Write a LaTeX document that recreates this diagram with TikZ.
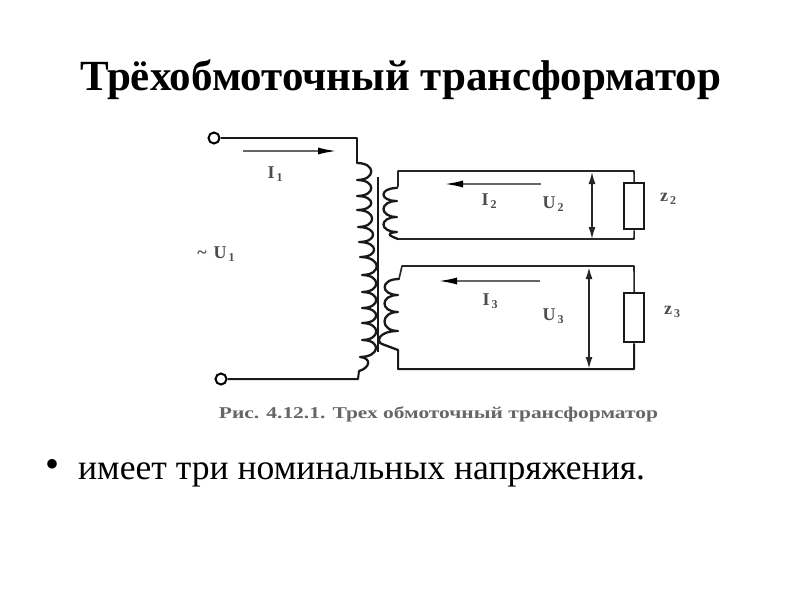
\documentclass[tikz,border=0pt]{standalone}
\usepackage{fontspec}
\setmainfont{Liberation Serif}
\usetikzlibrary{arrows.meta}
\newcommand{\lblsub}[2]{#1\kern2pt\raisebox{-3.5pt}{\fontsize{12}{12}\selectfont #2}}
\tikzset{
  wire/.style={line width=2pt,black!90,line join=round},
  thin wire/.style={line width=1.6pt,black!85,line join=round},
  coil/.style={line width=2.3pt,black!90,line cap=round,line join=round},
  core/.style={line width=2.4pt,black!90},
  terminal/.style={circle,draw=black,line width=2pt,fill=white,minimum size=11pt,inner sep=0pt},
  load/.style={draw=black!90,line width=2.4pt,fill=white,minimum width=20pt,inner sep=0pt,anchor=north west},
  current/.style={line width=2.4pt,black!60,-{Latex[length=20pt,width=7pt,black]}},
  volt/.style={line width=1.4pt,black!85,{Latex[length=12pt,width=7pt]}-{Latex[length=12pt,width=7pt]}},
  eltext/.style={font=\fontsize{18}{18}\selectfont\bfseries,text=black!70,inner sep=0pt},
  title/.style={font=\fontsize{43}{43}\selectfont\bfseries,inner sep=0pt},
  body/.style={font=\fontsize{35.6}{36}\selectfont,inner sep=0pt,anchor=base west},
  caption/.style={font=\fontsize{16.5}{17}\selectfont\bfseries,text=black!60,inner sep=0pt}
}
\begin{document}
\begin{tikzpicture}[x=1pt,y=-1pt]
\useasboundingbox (0,0) rectangle (800,600);
\fill[white] (0,0) rectangle (800,600);
\node[title] (ttl) at (400.5,80) {Трёхобмоточный трансформатор};

% terminals
\node[terminal] (t1) at (214,138) {};
\node[terminal] (t2) at (221,379) {};
% primary winding
\coordinate (a1) at (357,138);
\coordinate (a2) at (357,163);
\coordinate (b1) at (358,379);
\coordinate (b2) at (359,371);
\draw[wire] (t1) -- (a1) -- (a2);
\draw[wire] (t2) -- (b1) -- (b2);
\draw[coil] (a2)
  .. controls (376,163) and (376,180) .. (357,180)
  .. controls (376,180) and (376,196) .. (357,196)
  .. controls (376,196) and (376,210) .. (357,210)
  .. controls (377,210) and (377,227) .. (358,227)
  .. controls (378,227) and (378,242) .. (359,242)
  .. controls (379,242) and (379,257) .. (360,257)
  .. controls (382,257) and (382,275) .. (362,275)
  .. controls (381,275) and (381,292) .. (362,292)
  .. controls (381,292) and (381,308) .. (362,308)
  .. controls (381,308) and (381,323) .. (362,323)
  .. controls (381,323) and (381,340) .. (362,340)
  .. controls (382,340) and (380,357) .. (360,357)
  .. controls (372,358) and (370,368) .. (b2);
% core
\coordinate (c1) at (378,177);
\coordinate (c2) at (378,352);
\draw[core] (c1) -- (c2);

% load boxes
\node[load,minimum height=46pt] (z2) at (623,182) {};
\node[load,minimum height=49pt] (z3) at (623,292) {};

% secondary 2
\coordinate (d0) at (634,171);
\coordinate (d1) at (398,171);
\coordinate (d2) at (398,186);
\coordinate (d3) at (397,188);
\coordinate (e0) at (634,239);
\coordinate (e1) at (398,239);
\draw[thin wire] (z2.north) -- (d0) -- (d1) -- (d2) -- (d3);
\draw[thin wire] (z2.south) -- (e0) -- (e1);
\draw[coil] (d3)
  .. controls (379,188) and (379,201) .. (397,201)
  .. controls (379,201) and (379,217) .. (397,217)
  .. controls (379,217) and (379,232) .. (397,232)
  .. controls (384,233) and (390,236) .. (e1);

% secondary 3
\coordinate (f0) at (634,266);
\coordinate (f1) at (402,266);
\coordinate (f2) at (399,279);
\coordinate (g0) at (634,369);
\coordinate (g1) at (398,369);
\coordinate (g2) at (398,350);
\draw[thin wire] (z3.north) -- (f0) -- (f1) -- (f2);
\draw[wire] (z3.south) -- (g0) -- (g1) -- (g2);
\draw[coil] (f2)
  .. controls (380,279) and (380,295) .. (398,295)
  .. controls (380,295) and (380,312) .. (398,312)
  .. controls (380,312) and (380,331) .. (398,331)
  .. controls (378,331) and (376,342) .. (382,344)
  -- (g2);

% currents
\coordinate (i1a) at (243,151); \coordinate (i1b) at (338,151);
\coordinate (i2a) at (541,184); \coordinate (i2b) at (443,184);
\coordinate (i3a) at (540,281); \coordinate (i3b) at (437,281);
\draw[current] (i1a) -- (i1b);
\draw[current] (i2a) -- (i2b);
\draw[current] (i3a) -- (i3b);

% voltages
\coordinate (u2a) at (592,172); \coordinate (u2b) at (592,239);
\coordinate (u3a) at (589,267); \coordinate (u3b) at (589,369);
\draw[volt] (u2a) -- (u2b);
\draw[volt,line width=1.8pt] (u3a) -- (u3b);

% labels
\node[eltext] (li1) at (275,174) {\lblsub{I}{1}};
\node[eltext] (lu1) at (216,254) {\textasciitilde\kern7pt\lblsub{U}{1}};
\node[eltext] (li2) at (489,201) {\lblsub{I}{2}};
\node[eltext] (lu2) at (553,204) {\lblsub{U}{2}};
\node[eltext] (lz2) at (668,199) {\lblsub{z}{2}};
\node[eltext] (li3) at (490,301) {\lblsub{I}{3}};
\node[eltext] (lu3) at (553,316) {\lblsub{U}{3}};
\node[eltext] (lz3) at (672,312) {\lblsub{z}{3}};
\node[caption] (cap) at (438.5,414) {\scalebox{1.3}[1]{Рис. 4.12.1. Трех обмоточный трансформатор}};

% bullet
\node[font=\fontsize{40}{40}\selectfont,inner sep=0pt,anchor=base] (bul) at (53,477) {•};
\node[body] (txt) at (78,479) {имеет три номинальных напряжения.};
\end{tikzpicture}
\end{document}
